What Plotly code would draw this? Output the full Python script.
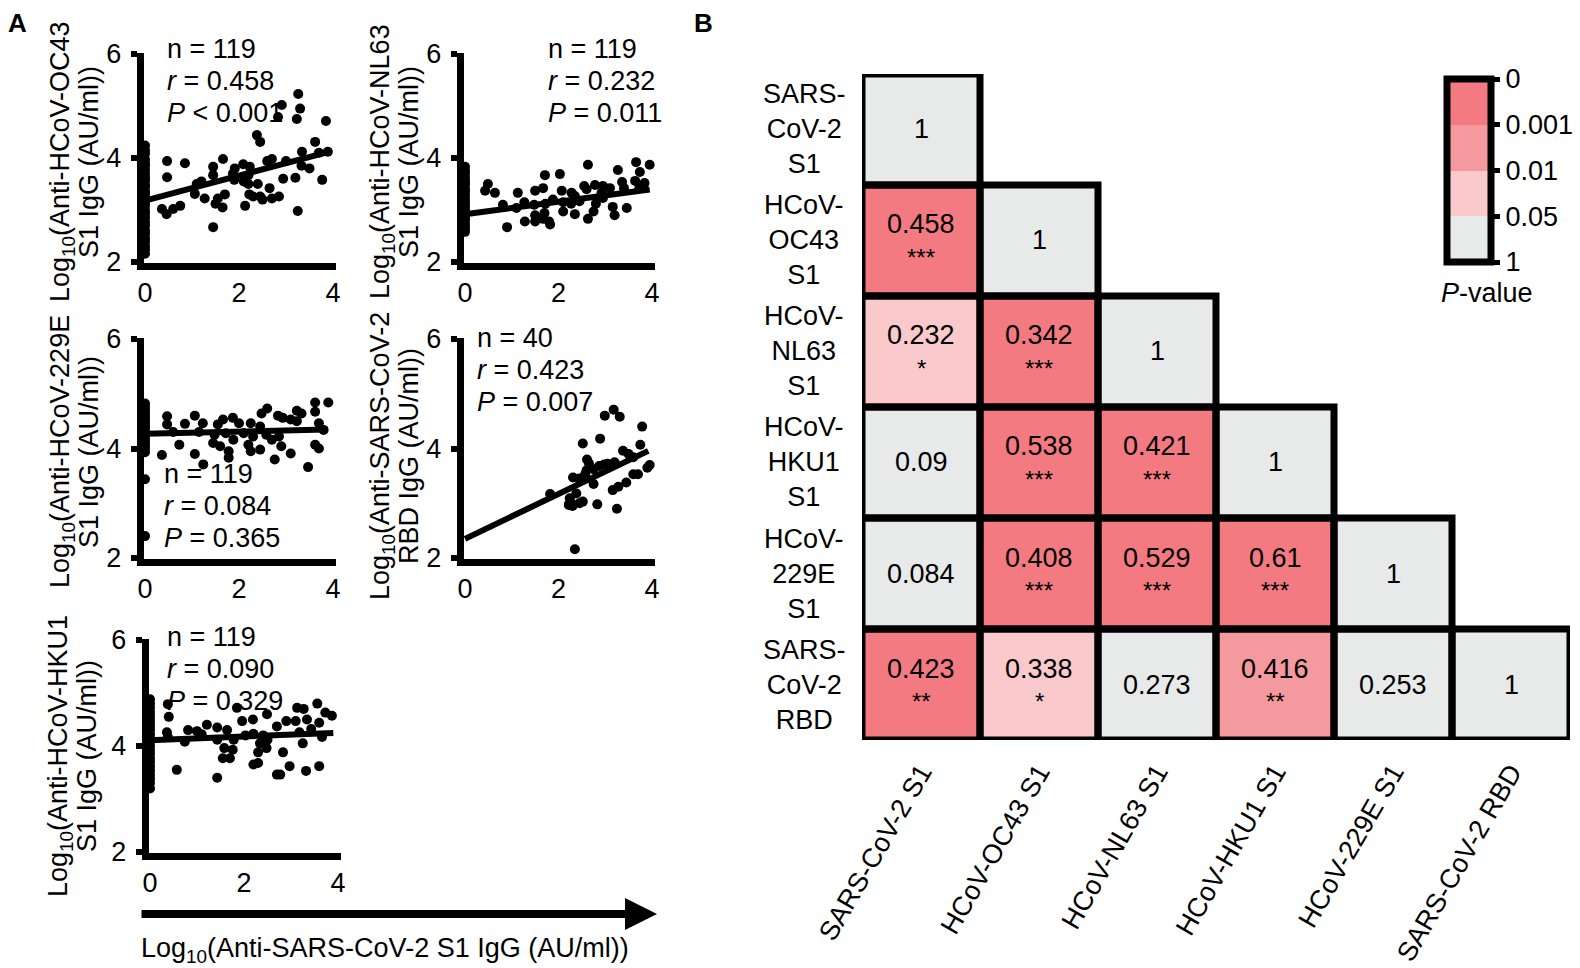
import plotly.graph_objects as go

FONT = "Liberation Sans, Arial, sans-serif"
W, H = 1580, 968
OFF_X, OFF_Y = 8, 6  # the page body shifts the figure a little

# ---------------- panel A: values ----------------
# (x, y) pairs with x > 0; points sitting on x = 0 are kept apart
oc43_pts = [(3.26, 5.23), (2.91, 5.02), (3.30, 4.95), (2.83, 4.79), (3.23, 4.75), (3.85, 4.71),
            (2.38, 4.44), (2.45, 4.31), (3.62, 4.31), (3.34, 4.12), (3.89, 4.12), (3.70, 4.10),
            (0.47, 3.94), (0.85, 3.90), (1.66, 3.98), (2.09, 3.88), (2.70, 3.98), (2.60, 3.94),
            (3.00, 3.94), (3.33, 3.85), (3.50, 3.80), (1.45, 3.83), (1.91, 3.80), (2.23, 3.83),
            (0.47, 3.63), (1.45, 3.67), (1.87, 3.70), (2.20, 3.67), (2.94, 3.60), (3.20, 3.62),
            (3.77, 3.58), (1.10, 3.50), (1.20, 3.55), (1.90, 3.58), (2.10, 3.55), (2.20, 3.50),
            (2.40, 3.50), (2.65, 3.42), (1.06, 3.31), (1.27, 3.22), (1.55, 3.22), (1.70, 3.30),
            (2.22, 3.30), (2.30, 3.26), (2.45, 3.26), (2.50, 3.20), (2.70, 3.22), (2.85, 3.26),
            (1.50, 3.12), (1.65, 3.05), (2.13, 3.08), (0.36, 3.02), (0.46, 2.92), (0.60, 3.02),
            (0.75, 3.08), (3.25, 2.98), (1.45, 2.67)]
oc43_zero = [4.24, 4.15, 4.08, 3.97, 3.90, 3.86, 3.78, 3.70, 3.63, 3.57, 3.49, 3.44, 3.36, 3.30,
             3.22, 3.14, 3.08, 2.99, 2.93, 2.85, 2.77, 2.70, 2.61, 2.55, 2.46, 2.40, 2.31, 2.24, 2.16]

nl63_pts = [(2.63, 3.87), (3.66, 3.92), (3.95, 3.87), (3.27, 3.77), (3.74, 3.73), (1.71, 3.67),
            (2.03, 3.69), (0.49, 3.50), (1.67, 3.42), (2.55, 3.46), (2.78, 3.48), (2.95, 3.46),
            (3.36, 3.54), (3.64, 3.56), (3.84, 3.52), (0.43, 3.37), (0.64, 3.33), (1.13, 3.33),
            (1.50, 3.37), (2.07, 3.37), (2.28, 3.33), (2.35, 3.27), (2.60, 3.40), (2.92, 3.33),
            (3.10, 3.42), (3.40, 3.42), (3.73, 3.42), (0.81, 3.10), (1.10, 3.04), (1.27, 3.15),
            (1.48, 3.10), (1.72, 3.12), (1.88, 3.20), (2.10, 3.15), (2.27, 3.12), (2.45, 3.17),
            (2.80, 3.12), (2.95, 3.23), (3.16, 3.06), (3.46, 3.04), (2.10, 2.97), (2.35, 2.92),
            (2.75, 2.97), (1.70, 2.94), (1.50, 2.90), (3.20, 2.90), (1.28, 2.78), (1.50, 2.78),
            (1.67, 2.83), (1.80, 2.78), (1.82, 2.72), (2.63, 2.83), (0.90, 2.67)]
nl63_zero = [3.83, 3.76, 3.70, 3.62, 3.55, 3.49, 3.41, 3.35, 3.28, 3.20, 3.14, 3.07, 3.00, 2.93,
             2.86, 2.80, 2.72, 2.65, 2.58]

e229_pts = [(3.90, 4.84), (3.62, 4.84), (3.62, 4.67), (2.60, 4.73), (2.48, 4.64), (3.23, 4.69),
            (3.33, 4.64), (2.83, 4.60), (2.93, 4.56), (3.10, 4.53), (3.23, 4.50), (0.47, 4.59),
            (0.47, 4.44), (1.06, 4.60), (0.85, 4.45), (1.23, 4.46), (1.66, 4.53), (1.87, 4.56),
            (1.55, 4.44), (2.00, 4.46), (2.25, 4.46), (2.45, 4.40), (3.70, 4.46), (3.80, 4.34),
            (0.60, 4.30), (1.15, 4.30), (1.48, 4.25), (1.72, 4.28), (1.88, 4.16), (2.10, 4.28),
            (2.30, 4.22), (2.58, 4.25), (2.70, 4.16), (2.85, 4.22), (0.73, 4.07), (1.45, 4.10),
            (1.60, 4.04), (2.20, 4.07), (2.25, 3.95), (2.45, 3.98), (2.90, 4.04), (3.62, 4.07),
            (3.70, 4.00), (0.36, 3.88), (1.06, 3.90), (1.78, 3.95), (1.78, 3.83), (3.10, 3.91),
            (2.76, 3.80), (1.24, 3.71), (3.47, 3.66)]
e229_zero = [4.82, 4.76, 4.70, 4.64, 4.58, 4.53, 4.47, 4.41, 4.36, 4.30, 4.24, 4.18, 4.12, 4.06,
             4.00, 3.93, 3.44, 2.40]

rbd_pts = [(2.99, 4.60), (3.18, 4.71), (3.31, 4.58), (3.79, 4.40), (2.89, 4.18), (2.52, 4.09),
           (3.75, 4.07), (3.38, 3.96), (2.61, 3.80), (2.65, 3.73), (2.75, 3.62), (2.98, 3.71),
           (3.20, 3.75), (3.60, 3.84), (3.95, 3.70), (3.90, 3.65), (2.57, 3.53), (2.31, 3.47),
           (2.75, 3.35), (3.60, 3.53), (3.70, 3.53), (3.45, 3.38), (3.28, 3.30), (3.16, 3.24),
           (1.82, 3.17), (2.38, 3.18), (2.24, 3.09), (2.28, 3.00), (2.45, 3.00), (2.52, 3.03),
           (2.83, 2.98), (3.25, 2.90), (2.35, 2.16), (2.22, 2.97), (2.44, 3.45), (2.87, 3.68),
           (2.30, 2.95), (3.50, 3.90), (2.60, 3.60), (3.05, 3.72)]
rbd_zero = []

hku1_pts = [(0.38, 4.79), (0.40, 4.55), (0.36, 4.26), (0.81, 4.30), (1.21, 4.40), (1.00, 4.28),
            (1.10, 4.22), (1.43, 4.35), (1.64, 4.30), (1.85, 4.72), (1.96, 4.47), (2.19, 4.50),
            (2.49, 4.60), (2.70, 4.37), (2.90, 4.47), (3.13, 4.72), (3.27, 4.70), (3.10, 4.47),
            (3.34, 4.50), (3.56, 4.80), (3.73, 4.63), (3.87, 4.57), (3.60, 4.44), (3.43, 4.32),
            (3.18, 4.26), (3.66, 4.17), (0.38, 4.17), (0.74, 4.08), (1.43, 4.12), (1.78, 4.12),
            (2.03, 4.20), (2.20, 4.23), (2.41, 4.20), (2.50, 4.12), (2.34, 4.05), (2.48, 3.96),
            (2.30, 3.88), (1.58, 3.96), (1.76, 3.93), (1.55, 3.77), (1.70, 3.77), (2.83, 3.88),
            (3.25, 4.05), (2.97, 3.62), (2.20, 3.65), (2.30, 3.68), (0.57, 3.55), (1.43, 3.40),
            (2.70, 3.46), (2.77, 3.46), (3.32, 3.53), (3.60, 3.62)]
hku1_zero = [4.88, 4.80, 4.72, 4.64, 4.57, 4.50, 4.43, 4.36, 4.30, 4.22, 4.15, 4.08, 4.00, 3.92,
             3.85, 3.77, 3.70, 3.62, 3.54, 3.46, 3.38, 3.30, 3.20]

panel_points = [oc43_pts, nl63_pts, e229_pts, rbd_pts, hku1_pts]
panel_zero = [oc43_zero, nl63_zero, e229_zero, rbd_zero, hku1_zero]

# regression lines
fit_intercept = [3.18, 2.92, 4.27, 2.35, 4.11]
fit_slope = [0.24, 0.12, 0.02, 0.41, 0.035]
fit_xmax = [3.85, 3.95, 3.85, 3.92, 3.9]

y_title_1 = ["Log<sub>10</sub>(Anti-HCoV-OC43", "Log<sub>10</sub>(Anti-HCoV-NL63",
             "Log<sub>10</sub>(Anti-HCoV-229E", "Log<sub>10</sub>(Anti-SARS-CoV-2",
             "Log<sub>10</sub>(Anti-HCoV-HKU1"]
y_title_2 = ["S1 IgG (AU/ml))", "S1 IgG (AU/ml))", "S1 IgG (AU/ml))", "RBD IgG (AU/ml))",
             "S1 IgG (AU/ml))"]
stat_n = ["119", "119", "119", "40", "119"]
stat_r = ["0.458", "0.232", "0.084", "0.423", "0.090"]
stat_p = ["&lt; 0.001", "= 0.011", "= 0.365", "= 0.007", "= 0.329"]
x_title = "Log<sub>10</sub>(Anti-SARS-CoV-2 S1 IgG (AU/ml))"

# ---------------- panel B: correlation matrix ----------------
antigens = ["SARS-CoV-2 S1", "HCoV-OC43 S1", "HCoV-NL63 S1", "HCoV-HKU1 S1",
            "HCoV-229E S1", "SARS-CoV-2 RBD"]
row_labels = ["SARS-<br>CoV-2<br>S1", "HCoV-<br>OC43<br>S1", "HCoV-<br>NL63<br>S1",
              "HCoV-<br>HKU1<br>S1", "HCoV-<br>229E<br>S1", "SARS-<br>CoV-2<br>RBD"]
r_values = [[1],
            [0.458, 1],
            [0.232, 0.342, 1],
            [0.09, 0.538, 0.421, 1],
            [0.084, 0.408, 0.529, 0.61, 1],
            [0.423, 0.338, 0.273, 0.416, 0.253, 1]]
stars = [[""],
         ["***", ""],
         ["*", "***", ""],
         ["", "***", "***", ""],
         ["", "***", "***", "***", ""],
         ["**", "*", "", "**", "", ""]]
# colour band of each cell: 3 = P<0.001, 2 = 0.001-0.01, 1 = 0.01-0.05, 0 = >0.05
p_band = [[0],
          [3, 0],
          [1, 3, 0],
          [0, 3, 3, 0],
          [0, 3, 3, 3, 0],
          [3, 1, 0, 2, 0, 0]]
band_colors = ["#E8E9E9", "#F9C9CC", "#F4999D", "#F47A81"]
cbar_ticks = ["1", "0.05", "0.01", "0.001", "0"]

FS = 27


def fx(p):
    return (p - OFF_X) / W


def fy(p):
    return 1 - (p - OFF_Y) / H


fig = go.Figure()
annotations = []
shapes = []
layout = {}

# pixel geometry of the five scatter panels (x=0, x=4, y=2, y=6)
px_x0 = [145, 465, 145, 465, 150]
px_x4 = [333, 652, 333, 652, 338]
px_y2 = [260, 260, 556, 556, 850]
px_y6 = [52, 52, 337, 337, 638]
title_x = [62, 382, 62, 382, 60]
title_y = [160, 160, 450, 454, 754]
stat_x = [165, 546, 162, 475, 165]
stat_y = [47, 47, 472, 336, 635]

XR = [-0.03, 4.06]
YR = [1.98, 6.02]

for k in range(5):
    ax = "" if k == 0 else str(k + 1)
    sx = (px_x4[k] - px_x0[k]) / 4
    sy = (px_y2[k] - px_y6[k]) / 4
    layout["xaxis" + ax] = dict(
        domain=[fx(px_x0[k] + XR[0] * sx), fx(px_x0[k] + XR[1] * sx)],
        range=XR, anchor="y" + ax, showline=True, linewidth=7, linecolor="black",
        ticks="", tickvals=[0, 2, 4], tickfont=dict(size=FS, color="black"),
        showgrid=False, zeroline=False, ticklabelstandoff=0)
    layout["yaxis" + ax] = dict(
        domain=[fy(px_y2[k] - (YR[0] - 2) * sy), fy(px_y6[k] - (YR[1] - 6) * sy)],
        range=YR, anchor="x" + ax, showline=True, linewidth=7, linecolor="black",
        ticks="outside", ticklen=6, tickwidth=6, tickcolor="black",
        tickvals=[2, 4, 6], tickfont=dict(size=FS, color="black"),
        showgrid=False, zeroline=False, ticklabelstandoff=4)

    pts = panel_points[k]
    xs = [p[0] for p in pts] + [0] * len(panel_zero[k])
    ys = [p[1] for p in pts] + panel_zero[k]
    fig.add_trace(go.Scatter(x=xs, y=ys, mode="markers", xaxis="x" + ax, yaxis="y" + ax,
                             marker=dict(size=10, color="black"), showlegend=False,
                             cliponaxis=False, hoverinfo="skip"))
    fig.add_trace(go.Scatter(x=[0, fit_xmax[k]],
                             y=[fit_intercept[k], fit_intercept[k] + fit_slope[k] * fit_xmax[k]],
                             mode="lines", xaxis="x" + ax, yaxis="y" + ax,
                             line=dict(color="black", width=6), showlegend=False,
                             hoverinfo="skip"))

    for t, dx in ((y_title_1[k], 0), (y_title_2[k], 27)):
        annotations.append(dict(text=t, x=fx(title_x[k] + dx), y=fy(title_y[k]),
                                xref="paper", yref="paper", showarrow=False, textangle=-90,
                                xanchor="center", yanchor="middle",
                                font=dict(size=FS, color="black")))
    lines = ["n = " + stat_n[k], "<i>r</i> = " + stat_r[k], "<i>P</i> " + stat_p[k]]
    for i, t in enumerate(lines):
        annotations.append(dict(text=t, x=fx(stat_x[k]), y=fy(stat_y[k] + 32 * i),
                                xref="paper", yref="paper", showarrow=False,
                                xanchor="left", yanchor="middle",
                                font=dict(size=FS, color="black")))

# common x title with arrow
annotations.append(dict(text="", x=fx(657), y=fy(912), xref="paper", yref="paper",
                        showarrow=True, ax=-517, ay=0, arrowhead=2, arrowsize=0.8,
                        arrowwidth=8, arrowcolor="black"))
annotations.append(dict(text=x_title, x=fx(385), y=fy(948), xref="paper", yref="paper",
                        xanchor="center", yanchor="middle", showarrow=False,
                        font=dict(size=FS, color="black")))

# ---------------- heatmap ----------------
n = len(antigens)
z = [[(p_band[i][j] + 0.5) if j <= i else None for j in range(n)] for i in range(n)]
scale = []
for b, c in enumerate(band_colors):
    scale.append([b / 4, c])
    scale.append([(b + 1) / 4, c])

fig.add_trace(go.Heatmap(
    z=z, x=list(range(n)), y=list(range(n)), xaxis="x6", yaxis="y6",
    zmin=0, zmax=4, colorscale=scale, hoverinfo="skip",
    colorbar=dict(x=fx(1447), xanchor="left", y=fy(77), yanchor="top",
                  len=183, lenmode="pixels", thickness=44, thicknessmode="pixels",
                  outlinewidth=7, outlinecolor="black", xpad=0, ypad=0,
                  tickvals=[0, 1, 2, 3, 4], ticktext=cbar_ticks, ticks="outside",
                  ticklen=6, tickwidth=5, tickcolor="black",
                  tickfont=dict(size=FS, color="black"))))

layout["xaxis6"] = dict(domain=[fx(862), fx(1570)], range=[-0.5, n - 0.5], anchor="y6",
                        tickvals=list(range(n)), ticktext=antigens, tickangle=-60,
                        tickfont=dict(size=FS, color="black"), showgrid=False,
                        zeroline=False, showline=False, ticks="", ticklabelstandoff=10)
layout["yaxis6"] = dict(domain=[fy(738), fy(72)], range=[n - 0.5, -0.5], anchor="x6",
                        showticklabels=False, showgrid=False, zeroline=False, ticks="")

for i in range(n):
    annotations.append(dict(text=row_labels[i], x=fx(804), y=i, xref="paper", yref="y6",
                            showarrow=False, align="center", xanchor="center",
                            yanchor="middle", font=dict(size=FS, color="black")))
    for j in range(i + 1):
        shapes.append(dict(type="rect", xref="x6", yref="y6", x0=j - 0.5, x1=j + 0.5,
                           y0=i - 0.5, y1=i + 0.5, line=dict(color="black", width=7),
                           layer="above"))
        has_star = stars[i][j] != ""
        annotations.append(dict(text=str(r_values[i][j]), x=j, y=i, xref="x6", yref="y6",
                                showarrow=False, yshift=16 if has_star else 0,
                                font=dict(size=FS, color="black")))
        if has_star:
            annotations.append(dict(text=stars[i][j], x=j, y=i, xref="x6", yref="y6",
                                    showarrow=False, yshift=-17,
                                    font=dict(size=24, color="black")))

annotations.append(dict(text="<i>P</i>-value", x=fx(1487), y=fy(291), xref="paper",
                        yref="paper", xanchor="center", yanchor="middle", showarrow=False,
                        font=dict(size=FS, color="black")))

# panel letters
annotations.append(dict(text="<b>A</b>", x=fx(6), y=fy(21), xref="paper", yref="paper",
                        xanchor="left", yanchor="middle", showarrow=False,
                        font=dict(size=26, color="black")))
annotations.append(dict(text="<b>B</b>", x=fx(692), y=fy(21), xref="paper", yref="paper",
                        xanchor="left", yanchor="middle", showarrow=False,
                        font=dict(size=26, color="black")))

fig.update_layout(**layout)
fig.update_layout(width=W, height=H, margin=dict(l=0, r=0, t=0, b=0, autoexpand=False),
                  paper_bgcolor="white", plot_bgcolor="white",
                  font=dict(family=FONT, color="black"),
                  annotations=annotations, shapes=shapes, showlegend=False)

fig.write_html("out.html")
